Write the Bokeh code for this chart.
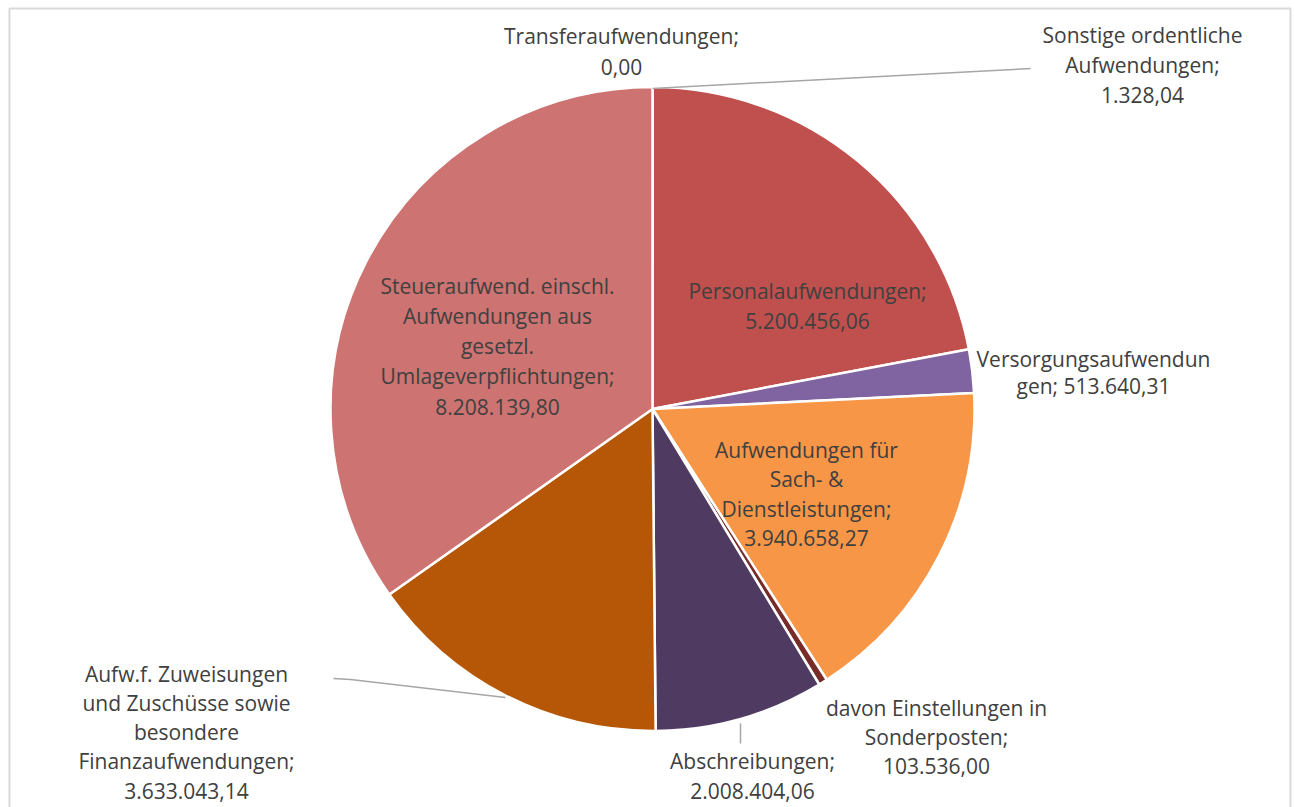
import math
from bokeh.plotting import figure
from bokeh.models import Range1d, ColumnDataSource
from bokeh.core.properties import value
from bokeh.embed import file_html
from bokeh.resources import INLINE

# ---- data (clockwise from 12 o'clock) ----
categories = [
    "Transferaufwendungen",
    "Sonstige ordentliche Aufwendungen",
    "Personalaufwendungen",
    "Versorgungsaufwendungen",
    "Aufwendungen für Sach- & Dienstleistungen",
    "davon Einstellungen in Sonderposten",
    "Abschreibungen",
    "Aufw.f. Zuweisungen und Zuschüsse sowie besondere Finanzaufwendungen",
    "Steueraufwend. einschl. Aufwendungen aus gesetzl. Umlageverpflichtungen",
]
values = [0.00, 1328.04, 5200456.06, 513640.31, 3940658.27, 103536.00,
          2008404.06, 3633043.14, 8208139.80]
colors = ["#4F81BD", "#9BBB59", "#C0504D", "#8064A2", "#F79646", "#772C2A",
          "#4F3B62", "#B65708", "#CD7371"]

# label wrapping as in the reference (name lines; value joined to last line or own line)
name_lines = [
    ["Transferaufwendungen;"],
    ["Sonstige ordentliche", "Aufwendungen;"],
    ["Personalaufwendungen;"],
    ["Versorgungsaufwendun", "gen;"],
    ["Aufwendungen für", "Sach- &", "Dienstleistungen;"],
    ["davon Einstellungen in", "Sonderposten;"],
    ["Abschreibungen;"],
    ["Aufw.f. Zuweisungen", "und Zuschüsse sowie", "besondere", "Finanzaufwendungen;"],
    ["Steueraufwend. einschl.", "Aufwendungen aus", "gesetzl.", "Umlageverpflichtungen;"],
]
value_same_line = [False, False, False, True, False, False, False, False, False]


def fmt_de(v):
    s = f"{v:,.2f}"
    return s.replace(",", "X").replace(".", ",").replace("X", ".")


W, H = 1292, 807
p = figure(width=W, height=H, output_backend="svg", toolbar_location=None,
           x_range=Range1d(0, W), y_range=Range1d(0, H), min_border=0)
p.axis.visible = False
p.grid.visible = False
p.outline_line_color = None
p.background_fill_color = "white"
p.border_fill_color = "white"


def Y(y_page):
    return H - y_page


def X(x_page):
    return x_page


# chart-area border
p.quad(left=[X(9)], right=[X(1290)], top=[Y(8)], bottom=[Y(830)],
       fill_color=None, line_color="#D9D9D9", line_width=2)

cx, cy, r = X(652), Y(408.5), 322

total = sum(values)
starts, ends = [], []
cum = 0.0
for v in values:
    starts.append(math.pi / 2 - 2 * math.pi * cum / total)
    cum += v
    ends.append(math.pi / 2 - 2 * math.pi * cum / total)

src = ColumnDataSource(dict(x=[cx] * len(values), y=[cy] * len(values),
                            start=starts, end=ends, color=colors))
p.wedge(x="x", y="y", radius=r, start_angle="start", end_angle="end",
        direction="clock", fill_color="color", line_color="white",
        line_width=2.5, source=src)

# leader lines (page coordinates)
leaders = [
    [(652, 88), (1030, 68)],
    [(333, 678), (350, 679), (505, 697)],
    [(740, 723), (740, 743)],
]
for pts in leaders:
    p.line([X(a) for a, b in pts], [Y(b) for a, b in pts],
           line_color="#A6A6A6", line_width=1.5)

# label placements: center x, first line y, line spacing (page coordinates)
placements = [
    (621, 35, 31),
    (1142, 34, 30),
    (807, 290, 30),
    (1093, 358, 27),
    (806, 449, 29.5),
    (936, 707, 29),
    (752, 760, 30),
    (186, 673, 29.3),
    (497, 285, 30.3),
]

tx, ty, tt = [], [], []
for i, (px, py, dy) in enumerate(placements):
    lines = list(name_lines[i])
    if value_same_line[i]:
        lines[-1] = lines[-1] + " " + fmt_de(values[i])
    else:
        lines.append(fmt_de(values[i]))
    for k, ln in enumerate(lines):
        tx.append(X(px))
        ty.append(Y(py + k * dy))
        tt.append(ln)

p.text(x=tx, y=ty, text=tt, text_align="center", text_baseline="middle",
       text_font=value("Open Sans"), text_font_size="21px", text_color="#404040")

open("out.html", "w").write(file_html(p, INLINE))
